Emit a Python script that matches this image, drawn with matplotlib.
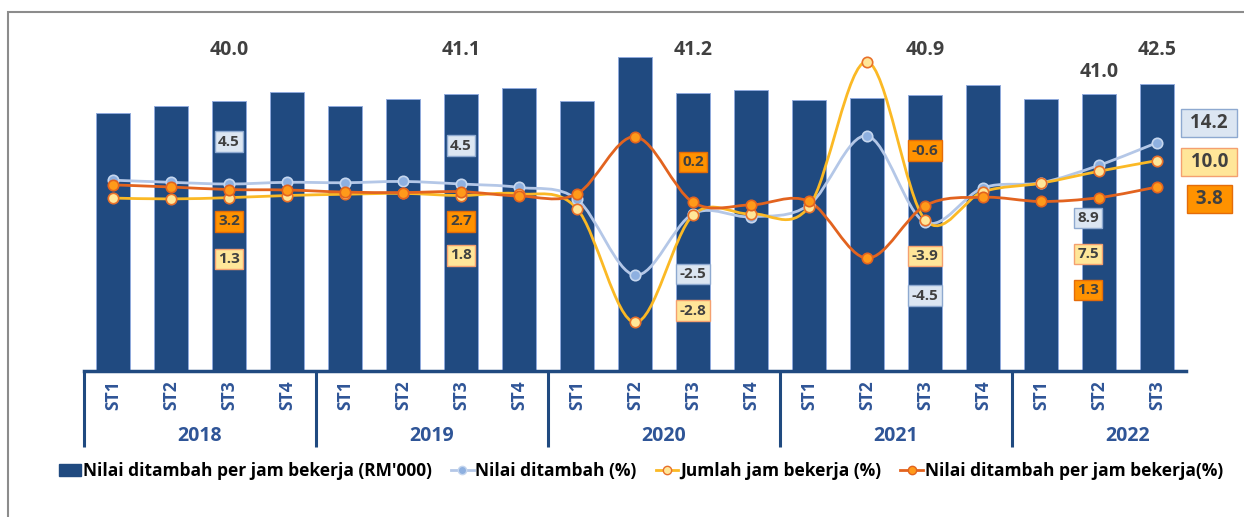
import numpy as np
import matplotlib.pyplot as plt
from matplotlib.path import Path
from matplotlib.patches import PathPatch, Rectangle, Patch
from matplotlib.lines import Line2D

plt.rcParams['font.family'] = ['Open Sans', 'DejaVu Sans']

years = ['2018', '2019', '2020', '2021', '2022']
quarters = ['ST1', 'ST2', 'ST3', 'ST4'] * 4 + ['ST1', 'ST2', 'ST3']
# RM'000 per hour worked
productivity = [38.2, 39.3, 40.0, 41.4, 39.2, 40.3, 41.1, 42.0, 40.0, 46.5,
                41.2, 41.7, 40.2, 40.4, 40.9, 42.3, 40.3, 41.0, 42.5]
# % change
value_added = [5.4, 4.9, 4.5, 4.9, 4.8, 5.1, 4.5, 3.7, 0.9, -16.9,
               -2.5, -3.2, -0.4, 15.8, -4.5, 3.6, 4.8, 8.9, 14.2]
hours = [1.2, 1.0, 1.3, 1.8, 2.1, 2.3, 1.8, 2.2, -1.3, -28.0,
         -2.8, -2.5, -0.8, 33.2, -3.9, 2.7, 4.7, 7.5, 10.0]
per_hour = [4.3, 3.8, 3.2, 3.1, 2.6, 2.5, 2.7, 1.7, 2.2, 15.6,
            0.2, -0.4, 0.4, -12.9, -0.6, 1.4, 0.4, 1.3, 3.8]

top_idx = [2, 6, 10, 14, 17, 18]
box_idx = [2, 6, 10, 14, 17]

NAVY = '#204a80'
TXT = '#404040'
LBLUE = '#b4c7e7'
YEL = '#fbb925'
ORG = '#e2631f'

fig = plt.figure(figsize=(12.44, 5.17), dpi=100)
ax = fig.add_axes([84 / 1244, 146 / 517, 1102 / 1244, 341 / 517])
ax2 = ax.twinx()

x = np.arange(len(productivity))
ax.bar(x, productivity, width=0.6, color=NAVY, edgecolor='#8faadc', linewidth=0.7)
ax.set_xlim(-0.5, len(x) - 0.5)
ax.set_ylim(0, 50.52)
ax2.set_ylim(-39.4, 40.66)

for a in (ax, ax2):
    for s in ['top', 'right', 'left']:
        a.spines[s].set_visible(False)
    a.set_yticks([])
ax2.spines['bottom'].set_visible(False)
ax.spines['bottom'].set_color(NAVY)
ax.spines['bottom'].set_linewidth(2.5)

ax.set_xticks(x)
ax.set_xticklabels(quarters, rotation=90, fontsize=12.5, fontweight='bold', color='#2f5597')
ax.tick_params(axis='x', length=0, pad=7)

# group separators and year labels
trans = ax.get_xaxis_transform()
starts = [0, 4, 8, 12, 16]
for s in starts:
    ax.plot([s - 0.5, s - 0.5], [0, -0.223], transform=trans, color=NAVY, lw=2.2,
            clip_on=False, solid_capstyle='butt')
for yr, s in zip(years, starts):
    ax.text(s + 1.5, -0.19, yr, transform=trans, ha='center', va='center',
            fontsize=14, fontweight='bold', color='#2f5597')


def smooth(xs, ys):
    pts = np.column_stack([xs, ys]).astype(float)
    n = len(pts)
    verts = [pts[0]]
    codes = [Path.MOVETO]
    for i in range(n - 1):
        p0 = pts[max(i - 1, 0)]
        p1 = pts[i]
        p2 = pts[i + 1]
        p3 = pts[min(i + 2, n - 1)]
        verts += [p1 + (p2 - p0) / 6, p2 - (p3 - p1) / 6, p2]
        codes += [Path.CURVE4] * 3
    return Path(verts, codes)


series = [
    (value_added, LBLUE, '#8eb0e0', '#c5d6ee'),
    (hours, YEL, '#ffe699', '#e8702a'),
    (per_hour, ORG, '#ff9a1a', '#e2631f'),
]
for vals, lc, mfc, mec in series:
    ax2.add_patch(PathPatch(smooth(x, vals), fc='none', ec=lc, lw=2.0, zorder=3))
    ax2.plot(x, vals, ls='none', marker='o', ms=7.5, mfc=mfc, mec=mec, mew=1.2, zorder=4)

# top labels
for i in top_idx:
    yy = 44.3 if i == 17 else 47.6
    ax.text(i, yy, f'{productivity[i]:.1f}', ha='center', va='center',
            fontsize=14, fontweight='bold', color=TXT)

box_styles = {
    'va': ('#dce6f2', '#8ea9d0'),
    'hr': ('#ffe699', '#f4a070'),
    'ph': ('#ff9200', '#e46c0a'),
}
box_x = [2, 6, 10, 14, 16.81]
va_y = [14.4, 13.5, -16.6, -21.7, -3.5]
hr_y = [-13.1, -12.2, -25.2, -12.4, -11.9]
ph_y = [-4.3, -4.3, 9.7, 12.3, -20.4]

for key, vals, ys in [('va', value_added, va_y), ('hr', hours, hr_y), ('ph', per_hour, ph_y)]:
    fc, ec = box_styles[key]
    for i, bx, by in zip(box_idx, box_x, ys):
        ax2.text(bx, by, f'{vals[i]:.1f}', ha='center', va='center', fontsize=11,
                 fontweight='bold', color=TXT, zorder=10,
                 bbox=dict(boxstyle='square,pad=0.22', fc=fc, ec=ec, lw=1))

# last-quarter labels on the right
right_y = [18.8, 9.7, 1.0]
for key, vals, by in zip(['va', 'hr', 'ph'], [value_added, hours, per_hour], right_y):
    fc, ec = box_styles[key]
    ax2.text(18.9, by, f' {vals[-1]:.1f} ', ha='center', va='center', fontsize=13.5,
             fontweight='bold', color=TXT, zorder=10, clip_on=False,
             bbox=dict(boxstyle='square,pad=0.22', fc=fc, ec=ec, lw=1))

handles = [
    Patch(fc=NAVY, ec=NAVY),
    Line2D([], [], color=LBLUE, lw=2, marker='o', ms=6, mfc='#8eb0e0', mec='#c5d6ee'),
    Line2D([], [], color=YEL, lw=2, marker='o', ms=6, mfc='#ffe699', mec='#e8702a'),
    Line2D([], [], color=ORG, lw=2, marker='o', ms=6, mfc='#ff9a1a', mec='#e2631f'),
]
labels = ["Nilai ditambah per jam bekerja (RM'000)", 'Nilai ditambah (%)',
          'Jumlah jam bekerja (%)', 'Nilai ditambah per jam bekerja(%)']
fig.legend(handles, labels, loc='center', bbox_to_anchor=(0.515, 0.089), ncol=4,
           frameon=False, handlelength=1.3, handletextpad=0.1, columnspacing=1.1,
           prop={'weight': 'bold', 'size': 12.5})

# chart border
fig.patches.append(Rectangle((8 / 1244, -0.1), 1.2, (517 - 12) / 517 + 0.1,
                             transform=fig.transFigure, fill=False, ec='#8c8c8c', lw=1.5))

fig.savefig('out.png', dpi=100)
